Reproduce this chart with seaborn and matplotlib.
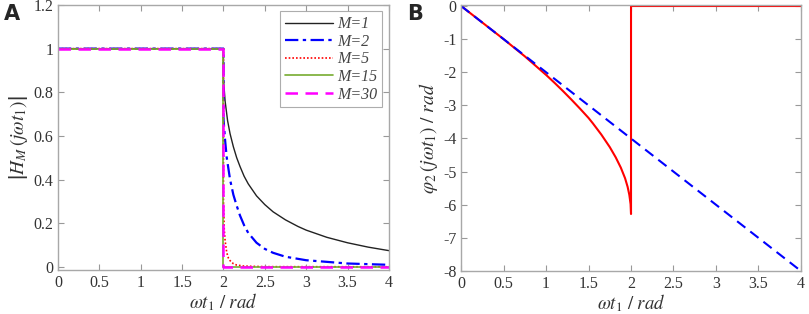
import numpy as np
import pandas as pd
import seaborn as sns
import matplotlib.pyplot as plt

# datos leidos de la figura
# panel A: |H_M(j w t1)|
x_m1 = [0, 2.0, 2.0, 2.02, 2.05, 2.08, 2.12, 2.16, 2.2, 2.25, 2.3, 2.4, 2.5, 2.6, 2.75, 2.9, 3.0, 3.25, 3.5, 3.75, 4.0]
y_m1 = [1, 1, 0.86, 0.76, 0.67, 0.61, 0.55, 0.5, 0.46, 0.415, 0.38, 0.325, 0.285, 0.252, 0.215, 0.185, 0.168, 0.135, 0.11, 0.09, 0.074]
x_m2 = [0, 2.0, 2.0, 2.02, 2.04, 2.08, 2.12, 2.16, 2.2, 2.25, 2.3, 2.4, 2.5, 2.6, 2.75, 3.0, 3.5, 4.0]
y_m2 = [1, 1, 0.68, 0.58, 0.5, 0.4, 0.33, 0.28, 0.235, 0.19, 0.155, 0.11, 0.082, 0.064, 0.046, 0.03, 0.015, 0.009]
x_m5 = [0, 2.0, 2.0, 2.01, 2.02, 2.04, 2.06, 2.08, 2.12, 2.16, 2.25, 2.5, 4.0]
y_m5 = [1, 1, 0.3, 0.17, 0.12, 0.065, 0.04, 0.028, 0.014, 0.008, 0.003, 0.0005, 0.0]
x_m15 = [0, 2.0, 2.0, 4.0]
y_m15 = [1, 1, 0.0, 0.0]
x_m30 = [0, 2.0, 2.0, 4.0]
y_m30 = [1, 1, 0.0, 0.0]
labels_m = ["M=1", "M=2", "M=5", "M=15", "M=30"]

# panel B: fase
x_phi = [0, 0.25, 0.5, 0.75, 1.0, 1.1, 1.2, 1.3, 1.4, 1.5, 1.55, 1.65, 1.75, 1.82, 1.88, 1.93, 1.96, 1.98, 1.995, 2.0, 2.0, 4.0]
y_phi = [0, -0.5, -1.0, -1.52, -2.08, -2.32, -2.57, -2.83, -3.1, -3.38, -3.54, -3.88, -4.26, -4.57, -4.88, -5.2, -5.46, -5.7, -5.98, -6.28, 0, 0]
x_lin = [0, 4]
y_lin = [0, -8]

xticks = [0, 0.5, 1, 1.5, 2, 2.5, 3, 3.5, 4]
xticklabels = ["0", "0.5", "1", "1.5", "2", "2.5", "3", "3.5", "4"]
yticks_a = [0, 0.2, 0.4, 0.6, 0.8, 1, 1.2]
yticklabels_a = ["0", "0.2", "0.4", "0.6", "0.8", "1", "1.2"]
yticks_b = [0, -1, -2, -3, -4, -5, -6, -7, -8]
yticklabels_b = ["0", "-1", "-2", "-3", "-4", "-5", "-6", "-7", "-8"]

sns.set_style("ticks")
plt.rcParams['font.family'] = ['Liberation Serif', 'DejaVu Serif']
plt.rcParams['mathtext.fontset'] = 'stix'

fig = plt.figure(figsize=(8.09, 3.14), dpi=100)
ax1 = fig.add_axes([0.0717, 0.140, 0.409, 0.844])
ax2 = fig.add_axes([0.570, 0.137, 0.420, 0.847])

estilos = [
    dict(color="#222222", linestyle="-", linewidth=1.0),
    dict(color="blue", linestyle=(0, (6, 2, 1.5, 2)), linewidth=1.6),
    dict(color="red", linestyle=(0, (1, 1.2)), linewidth=1.2),
    dict(color="#77ac30", linestyle="-", linewidth=1.2),
    dict(color="magenta", linestyle=(0, (5, 3)), linewidth=1.8),
]
series = [(x_m1, y_m1), (x_m2, y_m2), (x_m5, y_m5), (x_m15, y_m15), (x_m30, y_m30)]
for (xs, ys), lab, st in zip(series, labels_m, estilos):
    df = pd.DataFrame({"x": xs, "y": ys})
    sns.lineplot(data=df, x="x", y="y", sort=False, estimator=None, ax=ax1, label=lab, **st)

df_phi = pd.DataFrame({"x": x_phi, "y": y_phi})
sns.lineplot(data=df_phi, x="x", y="y", sort=False, estimator=None, ax=ax2,
             color="red", linewidth=1.5)
df_lin = pd.DataFrame({"x": x_lin, "y": y_lin})
sns.lineplot(data=df_lin, x="x", y="y", sort=False, estimator=None, ax=ax2,
             color="blue", linestyle=(0, (5, 3)), linewidth=1.5)

def estilo_ejes(ax, yticks, yticklabels, ylim, ylabel):
    ax.set_xlim(0, 4)
    ax.set_ylim(*ylim)
    ax.set_xticks(xticks)
    ax.set_xticklabels(xticklabels)
    ax.set_yticks(yticks)
    ax.set_yticklabels(yticklabels)
    ax.tick_params(direction="in", top=True, right=True, length=4, width=0.8,
                   color="#999999", labelsize=11.5, labelcolor="#333333")
    for s in ax.spines.values():
        s.set_visible(True)
        s.set_color("#a8a8a8")
        s.set_linewidth(1.0)
    ax.set_xlabel(r"$\omega t_1\ /\ rad$", fontsize=13.5, color="#333333", labelpad=0)
    ax.set_ylabel(ylabel, fontsize=14, color="#333333", labelpad=2)

estilo_ejes(ax1, yticks_a, yticklabels_a, (-0.015, 1.2), r"$\left|H_M\,(j\omega t_1)\right|$")
estilo_ejes(ax2, yticks_b, yticklabels_b, (-8, 0.03), r"$\varphi_2\,(j\omega t_1)\ /\ rad$")

leg = ax1.legend(loc="upper right", frameon=True, fancybox=False, fontsize=11.5,
                 handlelength=3.0, labelspacing=0.1, borderpad=0.3,
                 borderaxespad=0.4, handletextpad=0.3)
leg.get_frame().set_edgecolor("#999999")
leg.get_frame().set_linewidth(0.8)
for t in leg.get_texts():
    t.set_fontstyle("italic")
    t.set_color("#444444")

fig.text(0.005, 0.955, "A", fontsize=15, fontweight="bold", family="DejaVu Sans", va="center")
fig.text(0.503, 0.955, "B", fontsize=15, fontweight="bold", family="DejaVu Sans", va="center")

fig.savefig("out.png", dpi=100)
